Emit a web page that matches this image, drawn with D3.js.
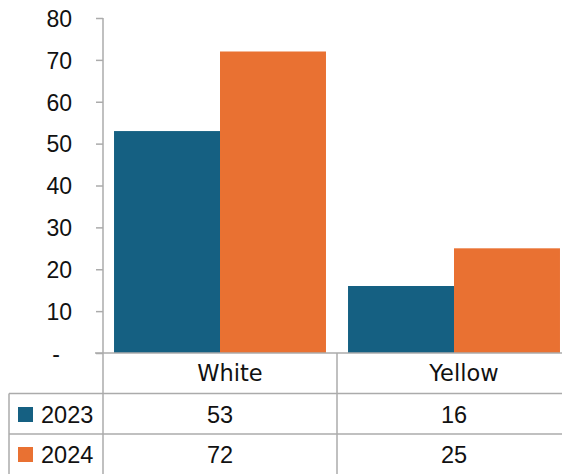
<!DOCTYPE html>
<html><head><meta charset="utf-8">
<script src="https://cdn.jsdelivr.net/npm/d3@7"></script>
<style>body{margin:0;background:#fff}svg{display:block}</style>
</head><body>
<svg id="c" width="562" height="474"></svg>
<script>
const categories = ["White", "Yellow"];
const seriesNames = ["2023", "2024"];
const values2023 = [53, 16];
const values2024 = [72, 25];
const yTicks = [0, 10, 20, 30, 40, 50, 60, 70, 80];
const colors = ["#156082", "#E97132"];

const series = [values2023, values2024];
const svg = d3.select("#c");
const font = "'Liberation Sans', Arial, sans-serif";
const labelFont = "'DejaVu Sans', sans-serif";
const gridColor = "#ababab";

const y = d3.scaleLinear().domain([0, 80]).range([353, 18]);
const x0 = d3.scaleBand().domain(categories).range([103, 571]).padding(0);
const x1 = d3.scaleBand().domain(seriesNames).range([0, x0.bandwidth()]).paddingInner(0).paddingOuter(0.104);

// bars
categories.forEach((cat, ci) => {
  seriesNames.forEach((s, si) => {
    const v = series[si][ci];
    svg.append("rect")
      .attr("x", x0(cat) + x1(s))
      .attr("y", y(v))
      .attr("width", x1.bandwidth())
      .attr("height", y(0) - y(v))
      .attr("fill", colors[si]);
  });
});

// y axis
const yAxis = d3.axisLeft(y).tickValues(yTicks).tickSize(7).tickPadding(0)
  .tickFormat(d => d === 0 ? "-" : d);
const ga = svg.append("g").attr("transform", "translate(103,0)").call(yAxis);
ga.select(".domain").remove();
ga.selectAll(".tick line").attr("stroke", gridColor).attr("stroke-width", 1.5);
ga.selectAll(".tick text")
  .attr("x", d => d === 0 ? -43 : -31)
  .attr("dy", "0.36em")
  .attr("fill", "#111")
  .style("font-family", font)
  .style("font-size", "23px");

// lines
const line = (x1_, y1_, x2_, y2_) => svg.append("line")
  .attr("x1", x1_).attr("y1", y1_).attr("x2", x2_).attr("y2", y2_)
  .attr("stroke", gridColor).attr("stroke-width", 1.5);
line(103, 18, 103, 474);
line(95, 353, 562, 353);
line(9, 393.5, 562, 393.5);
line(9, 434, 562, 434);
line(9, 393.5, 9, 474);
line(x0("Yellow"), 353, x0("Yellow"), 474);

// category labels
categories.forEach(cat => {
  svg.append("text")
    .attr("x", x0(cat) + x0.bandwidth() / 2 + 10)
    .attr("y", 381)
    .attr("text-anchor", "middle")
    .attr("fill", "#111")
    .style("font-family", labelFont).style("font-size", "22.5px")
    .text(cat);
});

// table rows
const rowBase = [423, 463];
seriesNames.forEach((s, si) => {
  svg.append("rect")
    .attr("x", 18).attr("y", rowBase[si] - 16)
    .attr("width", 15).attr("height", 15)
    .attr("fill", colors[si]);
  svg.append("text")
    .attr("x", 41).attr("y", rowBase[si])
    .attr("fill", "#111")
    .style("font-family", font).style("font-size", "23.5px")
    .text(s);
  categories.forEach((cat, ci) => {
    svg.append("text")
      .attr("x", x0(cat) + x0.bandwidth() / 2)
      .attr("y", rowBase[si])
      .attr("text-anchor", "middle")
      .attr("fill", "#111")
      .style("font-family", font).style("font-size", "23.5px")
      .text(series[si][ci]);
  });
});
</script>
</body></html>
